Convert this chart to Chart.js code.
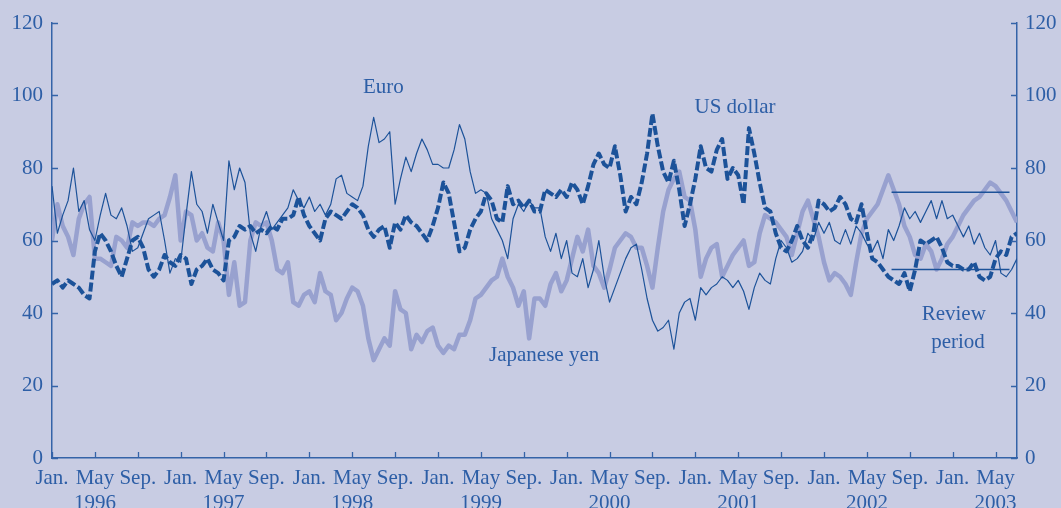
<!DOCTYPE html>
<html>
<head>
<meta charset="utf-8">
<script src="https://cdn.jsdelivr.net/npm/chart.js@4.4.1/dist/chart.umd.min.js"></script>
<style>
  html, body { margin: 0; padding: 0; background: #c8cce3; }
  #wrap { width: 1061px; height: 508px; }
</style>
</head>
<body>
<div id="wrap"><canvas id="fx-chart" width="1061" height="508"></canvas></div>
<script>
// index values, one every half month from Jan. 1996
let euro = [
  75, 62, 67, 71, 80, 68, 71, 63, 60, 67, 73, 67, 66, 69, 64, 57, 58, 62, 66, 67, 68, 60, 51, 55, 54,
  67, 79, 70, 68, 62, 70, 65, 60, 82, 74, 80, 76, 62, 57, 64, 68, 63, 65, 67, 69, 74,
  71, 69, 72, 68, 70, 67, 70, 77, 78, 73, 72, 71, 75, 86, 94, 87, 88, 90, 70, 77, 83, 79, 84, 88, 85,
  81, 81, 80, 80, 85, 92, 88, 79, 73, 74, 73, 66, 63, 60, 55, 66, 70, 68, 71, 69,
  69, 61, 57, 62, 55, 60, 51, 50, 55, 47, 52, 60, 50, 43, 47, 51, 55, 58, 59, 52, 44, 38, 35, 36, 38,
  30, 40, 43, 44, 38, 47, 45, 47, 48, 50, 49, 47, 49, 46, 41, 47, 51, 49, 48, 55, 60,
  58, 54, 55, 57, 62, 60, 65, 62, 65, 60, 59, 63, 59, 64, 62, 59, 57, 60, 55, 63, 60, 64, 69, 66, 68,
  65, 68, 71, 66, 71, 66, 67, 64, 61, 64, 59, 62, 58, 56, 60, 51, 50, 52, 55
]
let usDollar = [
  48, 49, 47, 49, 48, 47, 45, 44, 57, 62, 60, 57, 53, 50, 55, 60, 61, 58, 52, 50, 52, 56, 54, 53, 56,
  55, 48, 52, 53, 55, 52, 51, 49, 60, 61, 64, 63, 64, 62, 63, 62, 64, 63, 66, 66, 67,
  72, 67, 64, 62, 60, 66, 68, 67, 66, 68, 70, 69, 67, 63, 61, 63, 64, 58, 65, 63, 67, 65, 64, 62, 60,
  64, 69, 76, 73, 65, 57, 58, 63, 66, 68, 73, 71, 66, 65, 75, 70, 71, 69, 71, 68,
  68, 74, 73, 72, 74, 72, 76, 74, 70, 75, 81, 84, 81, 80, 86, 78, 68, 72, 70, 76, 84, 95, 86, 79, 76,
  82, 74, 64, 70, 77, 86, 80, 79, 85, 88, 77, 80, 78, 70, 91, 84, 76, 69, 68, 62, 58,
  57, 60, 64, 60, 58, 62, 71, 70, 68, 69, 72, 70, 66, 65, 70, 62, 55, 54, 52, 50, 49, 48, 51, 46, 52,
  60, 59, 60, 61, 58, 54, 53, 53, 52, 52, 54, 50, 49, 50, 55, 57, 56, 61, 62
]
let japaneseYen = [
  60, 70, 64, 61, 56, 66, 70, 72, 55, 55, 54, 53, 61, 60, 58, 65, 64, 65, 65, 64, 66, 67, 72, 78, 60,
  68, 67, 60, 62, 58, 57, 65, 60, 45, 54, 42, 43, 60, 65, 64, 65, 60, 52, 51, 54, 43,
  42, 45, 46, 43, 51, 46, 45, 38, 40, 44, 47, 46, 42, 33, 27, 30, 33, 31, 46, 41, 40, 30, 34, 32, 35,
  36, 31, 29, 31, 30, 34, 34, 38, 44, 45, 47, 49, 50, 55, 50, 47, 42, 46, 33, 44,
  44, 42, 48, 51, 46, 49, 55, 61, 57, 63, 53, 51, 47, 52, 58, 60, 62, 61, 58, 58, 53, 47, 58, 68, 74,
  77, 79, 72, 71, 63, 50, 55, 58, 59, 50, 53, 56, 58, 60, 53, 54, 62, 67, 66, 65, 63,
  61, 56, 62, 68, 71, 66, 61, 54, 49, 51, 50, 48, 45, 54, 62, 66, 68, 70, 74, 78, 74, 70, 64, 61, 56,
  55, 59, 57, 52, 55, 59, 61, 64, 67, 69, 71, 72, 74, 76, 75, 73, 71, 68, 65
]

// months counted from Jan. 1996
let months = euro.map((v, i) => i / 2)
let firstYear = 1996
let monthNames = {0: 'Jan.', 4: 'May', 8: 'Sep.'}
let yTicks = [0, 20, 40, 60, 80, 100, 120]

// review period band
let reviewMonths = [78.3, 89.3]
let reviewHigh = 73.3
let reviewLow = 52

let textColor = '#2d5ea6'
let axisColor = '#3463a8'
let darkBlue = '#1c5299'
let yenColor = '#98a1cf'
let serif = "'Liberation Serif', 'Times New Roman', serif"

let toPoints = (values) => values.map((v, i) => ({x: months[i], y: v}))

// labels placed in data units (month, index value)
let notes = [
  {text: 'Euro', x: 30.9, y: 102.2},
  {text: 'US dollar', x: 63.7, y: 96.6},
  {text: 'Japanese yen', x: 45.9, y: 28.4},
  {text: 'Review', x: 84.1, y: 39.5},
  {text: 'period', x: 84.5, y: 32.0}
]

// tick marks pointing into the plot, plus the text labels
let decorations = {
  id: 'decorations',
  afterDraw(chart) {
    let ctx = chart.ctx
    let area = chart.chartArea
    let xs = chart.scales.x
    let ys = chart.scales.y
    ctx.save()
    ctx.strokeStyle = axisColor
    ctx.lineWidth = 1.3
    ctx.beginPath()
    xs.ticks.forEach(t => {
      let px = Math.round(xs.getPixelForValue(t.value)) + 0.5
      ctx.moveTo(px, area.bottom)
      ctx.lineTo(px, area.bottom - 6)
    })
    ys.ticks.forEach(t => {
      let py = Math.round(ys.getPixelForValue(t.value)) + 0.5
      ctx.moveTo(area.left, py)
      ctx.lineTo(area.left + 6, py)
      ctx.moveTo(area.right, py)
      ctx.lineTo(area.right - 6, py)
    })
    ctx.stroke()

    ctx.fillStyle = textColor
    ctx.font = '21px ' + serif
    ctx.textAlign = 'center'
    ctx.textBaseline = 'middle'
    notes.forEach(n => {
      ctx.fillText(n.text, xs.getPixelForValue(n.x), ys.getPixelForValue(n.y))
    })
    ctx.restore()
  }
}

let ctx = document.querySelector('#fx-chart').getContext('2d')

let chart = new Chart(ctx, {
  type: 'line',
  data: {
    datasets: [
      {
        label: 'Euro',
        data: toPoints(euro),
        borderColor: darkBlue,
        borderWidth: 1.2,
        order: 1
      },
      {
        label: 'US dollar',
        data: toPoints(usDollar),
        borderColor: darkBlue,
        borderWidth: 4,
        borderDash: [9, 3],
        order: 2
      },
      {
        label: 'Japanese yen',
        data: toPoints(japaneseYen),
        borderColor: yenColor,
        borderWidth: 4.5,
        order: 3
      },
      {
        label: 'Review high',
        data: reviewMonths.map(m => ({x: m, y: reviewHigh})),
        borderColor: darkBlue,
        borderWidth: 1.4,
        order: 0
      },
      {
        label: 'Review low',
        data: reviewMonths.map(m => ({x: m, y: reviewLow})),
        borderColor: darkBlue,
        borderWidth: 1.4,
        order: 0
      }
    ]
  },
  options: {
    responsive: false,
    animation: false,
    parsing: false,
    elements: {
      point: {radius: 0},
      line: {tension: 0, borderJoinStyle: 'round'}
    },
    layout: {padding: {top: 23, left: 0, right: 0, bottom: 0}},
    plugins: {
      legend: {display: false},
      tooltip: {enabled: false}
    },
    scales: {
      x: {
        type: 'linear',
        position: 'bottom',
        min: 0,
        max: 90,
        afterFit: (scale) => { scale.height = 50 },
        grid: {display: false, drawTicks: false},
        border: {display: true, color: axisColor, width: 1.5},
        ticks: {
          stepSize: 4,
          includeBounds: false,
          autoSkip: false,
          maxRotation: 0,
          padding: 8,
          color: textColor,
          font: {family: serif, size: 21, lineHeight: 1.2},
          callback: function(value) {
            let name = monthNames[value % 12]
            if (name === undefined) return ''
            let year = value % 12 === 4 ? String(firstYear + Math.floor(value / 12)) : ''
            return [name, year]
          }
        }
      },
      y: {
        position: 'left',
        min: 0,
        max: 120,
        afterFit: (scale) => { scale.width = 52 },
        afterBuildTicks: (scale) => { scale.ticks = yTicks.map(v => ({value: v})) },
        grid: {display: false, drawTicks: false},
        border: {display: true, color: axisColor, width: 1.5},
        ticks: {
          padding: 9,
          color: textColor,
          font: {family: serif, size: 21}
        }
      },
      y2: {
        position: 'right',
        min: 0,
        max: 120,
        afterFit: (scale) => { scale.width = 44 },
        afterBuildTicks: (scale) => { scale.ticks = yTicks.map(v => ({value: v})) },
        grid: {display: false, drawTicks: false},
        border: {display: true, color: axisColor, width: 1.5},
        ticks: {
          padding: 8,
          color: textColor,
          font: {family: serif, size: 21}
        }
      }
    }
  },
  plugins: [decorations]
})
</script>
</body>
</html>
